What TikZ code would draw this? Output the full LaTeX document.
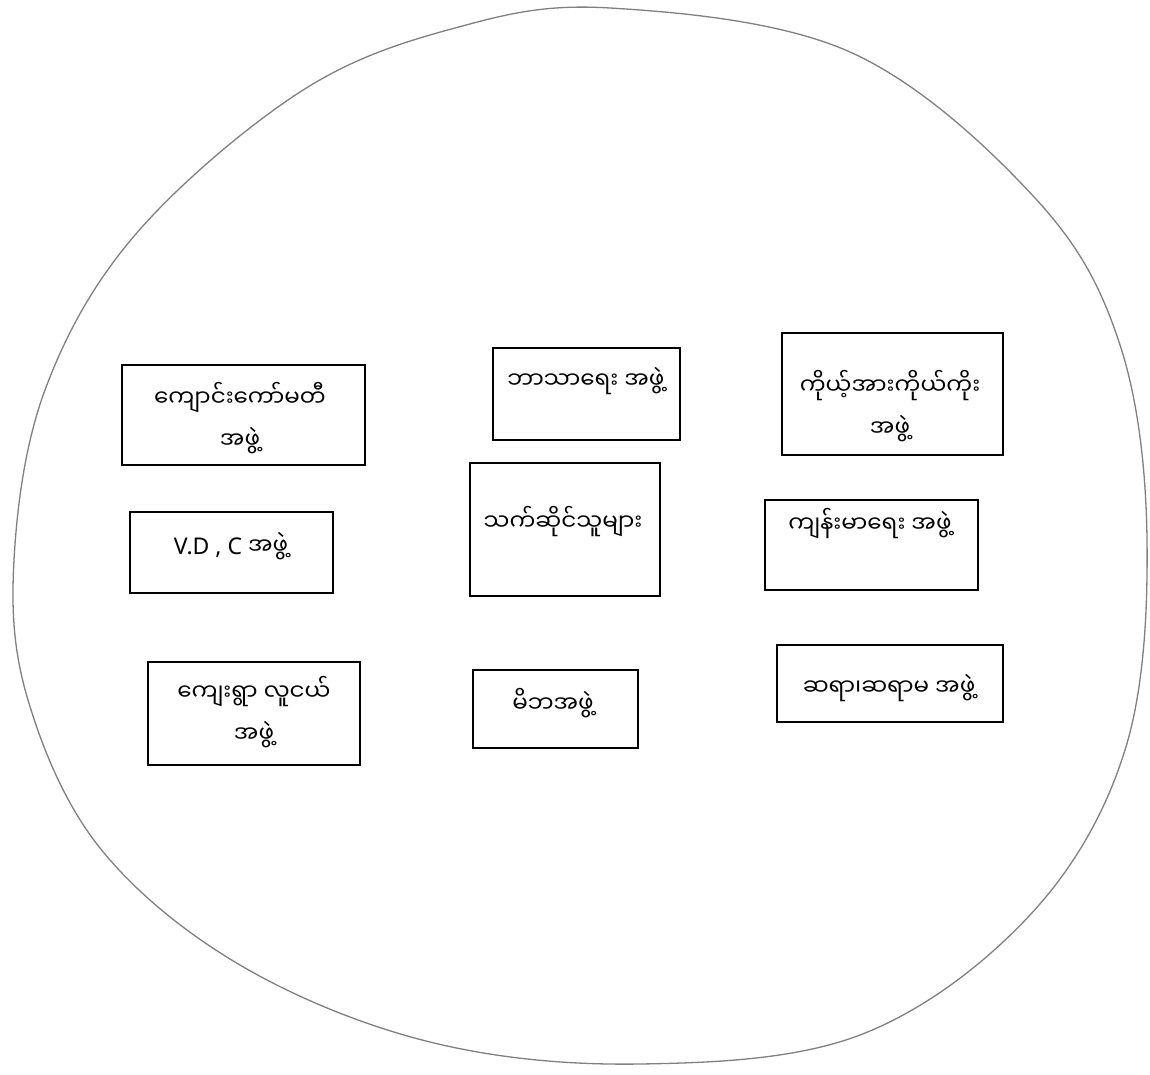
\documentclass[tikz,border=0pt]{standalone}
\usepackage{fontspec}
\setmainfont{Noto Sans}
\newfontfamily\mya[Script=Myanmar]{Noto Sans Myanmar UI}
\begin{document}
\begin{tikzpicture}[x=1pt,y=-1pt,
  box/.style={draw=black, line width=1.8pt, minimum width=#1},
  lbl/.style={font=\mya\fontsize{23}{42}\selectfont, align=center, inner sep=0pt},
  blob/.style={draw=black!50, line width=1.3pt}]
\useasboundingbox (0,0) rectangle (1150,1075);
\fill[white] (0,0) rectangle (1150,1075);
% outer hand-drawn circle
\draw[blob] plot[smooth cycle, tension=0.6] coordinates {
 (610,8) (850,52) (1035,198) (1120,345) (1147,540) (1125,750) (1030,915)
 (860,1035) (640,1064) (430,1042) (240,965) (100,848) (28,700) (14,560)
 (45,390) (135,235) (300,92) (455,28)};
% boxes
\node[box=243, minimum height=100] (b1) at (243.5,415) {};
\node[box=187, minimum height=92]  (b2) at (586.5,394) {};
\node[box=221, minimum height=122] (b3) at (892.5,394) {};
\node[box=203, minimum height=81]  (b4) at (231.5,552.5) {};
\node[box=190, minimum height=133] (b5) at (565,529.5) {};
\node[box=213, minimum height=90]  (b6) at (871.5,545) {};
\node[box=212, minimum height=103] (b7) at (254,713.5) {};
\node[box=165, minimum height=78]  (b8) at (555.5,709) {};
\node[box=226, minimum height=77]  (b9) at (890,683.5) {};
% labels
\node[lbl] (t1) at (240,418) {ကျောင်းကော်မတီ\\အဖွဲ့};
\node[lbl] (t2) at (586,381) {ဘာသာရေး အဖွဲ့};
\node[lbl] (t3) at (890,406) {ကိုယ့်အားကိုယ်ကိုး\\အဖွဲ့};
\node[lbl] (t4) at (231,546) {{\rmfamily V.D , C} အဖွဲ့};
\node[lbl] (t5) at (563,522) {သက်ဆိုင်သူများ};
\node[lbl] (t6) at (870,524) {ကျန်းမာရေး အဖွဲ့};
\node[lbl] (t7) at (254,712) {ကျေးရွာ လူငယ်\\အဖွဲ့};
\node[lbl] (t8) at (553,703) {မိဘအဖွဲ့};
\node[lbl] (t9) at (889,688) {ဆရာ၊ဆရာမ အဖွဲ့};
\end{tikzpicture}
\end{document}
